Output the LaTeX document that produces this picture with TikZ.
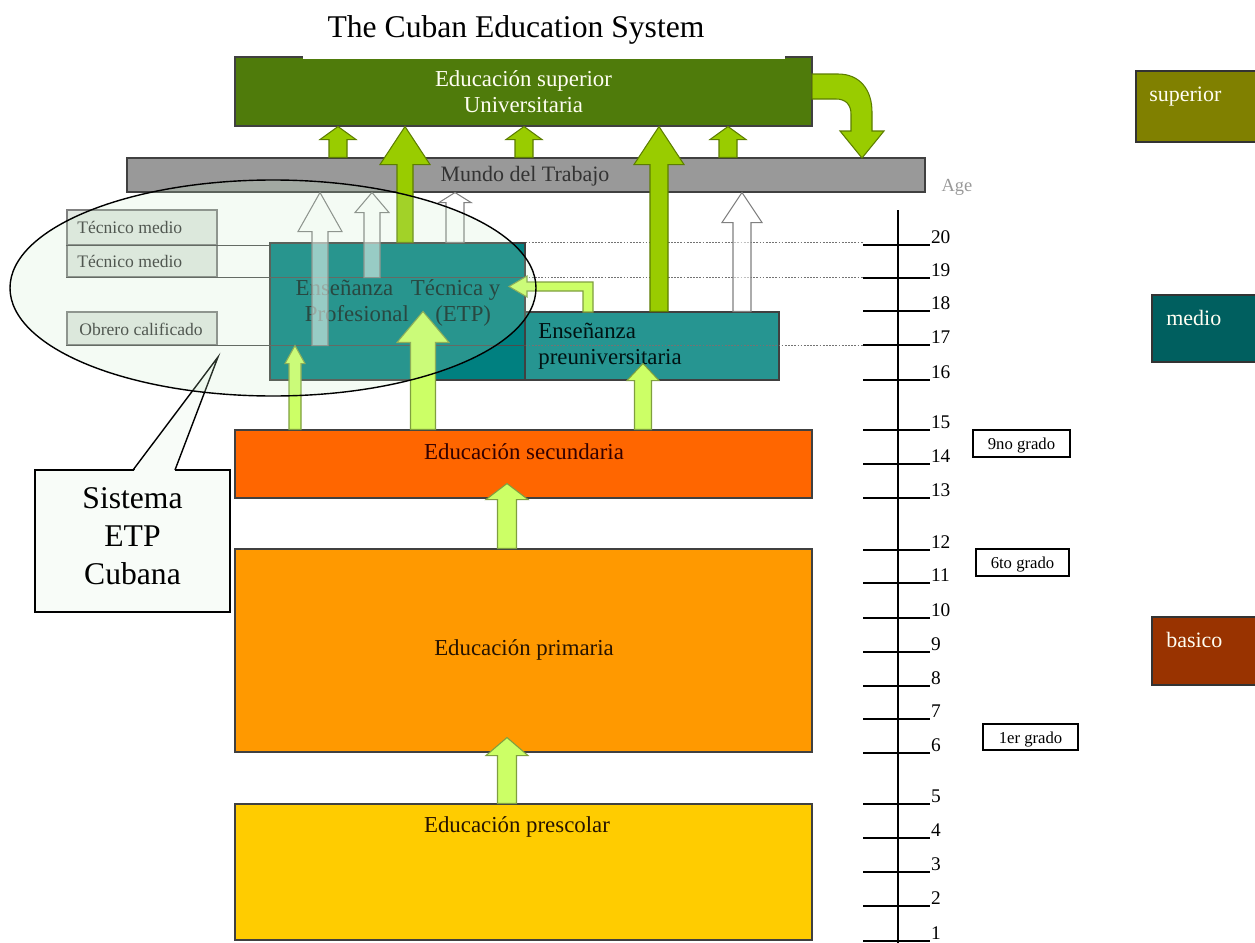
\documentclass[tikz,border=0pt]{standalone}
\usepackage{fontspec}
\setmainfont{Liberation Serif}
\usetikzlibrary{calc,fit}

\definecolor{supgreen}{HTML}{4F7B0B}
\definecolor{worldgray}{HTML}{999999}
\definecolor{etpteal}{HTML}{008080}
\definecolor{preuteal}{HTML}{269591}
\definecolor{secorange}{HTML}{FF6600}
\definecolor{primorange}{HTML}{FF9900}
\definecolor{preyellow}{HTML}{FFCC00}
\definecolor{arrowgreen}{HTML}{99CC00}
\definecolor{arrowgreenline}{HTML}{5C7D00}
\definecolor{lightgreen}{HTML}{CCFF66}
\definecolor{lightgreenline}{HTML}{7F9F3F}
\definecolor{legolive}{HTML}{808000}
\definecolor{legteal}{HTML}{005F5F}
\definecolor{legbrown}{HTML}{993300}
\definecolor{tecfill}{HTML}{E2E8E2}
\definecolor{ovalfill}{HTML}{C8EBC8}
\definecolor{notefill}{HTML}{F8FCF8}

% upward block arrow: style, centre x, tail point, tip point, half shaft, half head, head length
\newcommand{\blockup}[7]{%
  \path[#1] let \p1=#3, \p2=#4 in
    ({(#2-#5)*0.02cm},\y1) -- ({(#2-#5)*0.02cm},{\y2-#7*0.02cm})
    -- ({(#2-#6)*0.02cm},{\y2-#7*0.02cm}) -- ({#2*0.02cm},\y2)
    -- ({(#2+#6)*0.02cm},{\y2-#7*0.02cm}) -- ({(#2+#5)*0.02cm},{\y2-#7*0.02cm})
    -- ({(#2+#5)*0.02cm},\y1) -- cycle;}

\begin{document}
\begin{tikzpicture}[x=0.02cm, y=-0.02cm,
  box/.style={rectangle, inner sep=0pt, draw=black!75, line width=0.6pt},
  lbl/.style={font=\fontsize{13}{14.5}\selectfont, inner sep=0pt, align=center},
  teclbl/.style={font=\fontsize{10}{11}\selectfont, inner sep=0pt, anchor=west, text=black!80},
  tecbox/.style={box, draw=black!50, fill=tecfill},
  gradebox/.style={box, draw=black, fill=white},
  gradefont/.style={font=\fontsize{9.5}{11}\selectfont, inner sep=0pt, yshift=-1.3pt},
  legbox/.style={box, draw=black!80},
  leglbl/.style={font=\fontsize{12.5}{14}\selectfont, inner sep=0pt, anchor=west, text=white!95!yellow},
  greenarrow/.style={fill=arrowgreen, draw=arrowgreenline, line width=0.6pt},
  lightarrow/.style={fill=lightgreen, draw=lightgreenline, line width=0.6pt},
  whitearrow/.style={fill=white, fill opacity=0.55, draw=black!50, line width=0.6pt},
  levelline/.style={draw=black!70, line width=0.5pt},
  dotline/.style={draw=black!55, line width=0.5pt, dash pattern=on 1pt off 0.8pt},
  agelbl/.style={font=\fontsize{11}{12}\selectfont, inner sep=0.3pt, anchor=south west}
]
\useasboundingbox (0,0) rectangle (1255,943);

% ---------- higher education and title ----------
\node[box, fill=supgreen, fit={(235,57)(812,126)}] (sup) {};
\node[lbl, text=white!95!yellow] (suptext) at (sup.center) {Educación superior\\Universitaria};
\node[fill=white, inner sep=0pt, fit={(303,0)(785,59)}] (titlebg) {};
\node[font=\fontsize{18}{20}\selectfont, inner sep=0pt] (title) at (516,30) {The Cuban Education System};

% ---------- world of work ----------
\node[box, fill=worldgray, fit={(127,158)(925,192)}] (mundo) {};
\node[lbl, font=\fontsize{12.5}{14}\selectfont, text=black!80] (mundotext) at (525,176) {Mundo del Trabajo};
\node[font=\fontsize{10.5}{12}\selectfont, text=black!40, inner sep=0pt] (agehead) at (957,187) {Age};

% curved return arrow from higher education into the world of work
\path[greenarrow] (812,74) -- (838,74) .. controls (860,74) and (872,90) .. (872,112)
  -- (872,131) -- (884,131) -- (862,158) -- (840,131) -- (851,131) -- (851,114)
  .. controls (851,104) and (845,99) .. (836,99) -- (812,99) -- cycle;

% work -> higher education
\blockup{greenarrow}{338}{(mundo.north)}{(sup.south)}{9}{18}{13}
\blockup{greenarrow}{524}{(mundo.north)}{(sup.south)}{9}{18}{13}
\blockup{greenarrow}{728}{(mundo.north)}{(sup.south)}{9}{18}{13}

% ---------- qualification boxes ----------
\node[tecbox, fit={(67,210)(217,245)}] (tec1) {};
\node[tecbox, fit={(67,245)(217,277)}] (tec2) {};
\node[tecbox, fit={(67,312)(217,345)}] (obr) {};
\node[teclbl] (tec1text) at (77,227) {Técnico medio};
\node[teclbl] (tec2text) at (77,261) {Técnico medio};
\node[teclbl] (obrtext) at (79,329) {Obrero calificado};

% ---------- middle level ----------
\node[box, fill=etpteal, fit={(270,243)(525,380)}] (etp) {};
\node[box, fill=preuteal, fit={(525,312)(779,380)}] (preu) {};
\node[lbl, text=black!75!teal] (etptext) at (398,303)
  {Enseñanza\hspace{10pt}Técnica y\\Profesional\hspace{15pt}(ETP)};
\node[lbl, align=left, anchor=west, text=black!85!teal] (preutext) at (538,346)
  {Enseñanza\\preuniversitaria};

% age level lines
\coordinate (tickl) at (863,0);
\draw[levelline] (tec1.south west) -- (tec1.south west -| etp.west);
\draw[dotline] (etp.north east) -- (etp.north east -| tickl);
\draw[levelline] (tec2.south west) -- (tec2.south west -| etp.east);
\draw[dotline] (tec2.south west -| etp.east) -- (tec2.south west -| tickl);
\draw[levelline] (obr.south west) -- (obr.south west -| etp.east);
\draw[dotline] (obr.south west -| etp.east) -- (obr.south west -| tickl);

% middle level -> higher education
\blockup{greenarrow}{405}{(etp.north)}{(sup.south)}{8}{25}{38}
\blockup{greenarrow}{659}{(preu.north)}{(sup.south)}{9}{25}{38}

% middle level -> world of work
\blockup{whitearrow}{320}{(obr.south)}{(mundo.south)}{8}{22}{39}
\blockup{whitearrow}{372}{(tec2.south)}{(mundo.south)}{8}{17}{20}
\blockup{whitearrow}{455}{(etp.north)}{(mundo.south)}{9}{16}{10}
\blockup{whitearrow}{742}{(preu.north)}{(mundo.south)}{9}{20}{30}

% preuniversity -> ETP
\path[lightarrow] (583,312) -- (583,291) -- (527,291) -- (527,297) -- (509,286.5)
  -- (527,276) -- (527,282) -- (593,282) -- (593,312) -- cycle;

% ---------- basic levels ----------
\node[box, fill=secorange, fit={(235,430)(812,498)}] (sec) {};
\node[lbl, text=black!80!red] (sectext) at (524,452) {Educación secundaria};
\node[box, fill=primorange, fit={(235,549)(812,752)}] (prim) {};
\node[lbl, text=black!85!orange] (primtext) at (524,650) {Educación primaria};
\node[box, fill=preyellow, fit={(235,804)(812,940)}] (pre) {};
\node[lbl, text=black!85!orange] (pretext) at (517,827) {Educación prescolar};

\blockup{lightarrow}{295}{(sec.north)}{(obr.south)}{6}{10}{18}
\blockup{lightarrow}{423}{(sec.north)}{(obr.north)}{12.5}{26}{31}
\blockup{lightarrow}{643}{(sec.north)}{($(preu.south)+(0,-17)$)}{8.5}{16}{17}
\blockup{lightarrow}{507}{(prim.north)}{($(sec.south)+(0,-15)$)}{9.5}{21}{16}
\blockup{lightarrow}{507}{(pre.north)}{($(prim.south)+(0,-15)$)}{9.5}{21}{18}

% ---------- age scale ----------
\draw[line width=0.6pt] (898,210) -- (898,943);
\foreach \a/\yy in {20/245,19/278,18/311,17/345,16/380,15/430,14/464,13/498,12/550,11/583,
                    10/618,9/652,8/686,7/719,6/753,5/804,4/838,3/872,2/906,1/941}
  \draw[line width=0.6pt] (863,\yy) -- (930,\yy) node[agelbl] (age\a) {\a};

\node[gradebox, fit={(973,430)(1070,457)}, label={[gradefont]center:9no grado}] (g9) {};
\node[gradebox, fit={(976,549)(1069,576)}, label={[gradefont]center:6to grado}] (g6) {};
\node[gradebox, fit={(983,724)(1078,750)}, label={[gradefont]center:1er grado}] (g1) {};

% ---------- level legend ----------
\node[legbox, fill=legolive, fit={(1136,71)(1256,142)}] (lsup) {};
\node[leglbl] (lsuptext) at (1149,97) {superior};
\node[legbox, fill=legteal, fit={(1152,295)(1256,362)}] (lmed) {};
\node[leglbl] (lmedtext) at (1166,318) {medio};
\node[legbox, fill=legbrown, fit={(1152,617)(1256,685)}] (lbas) {};
\node[leglbl] (lbastext) at (1166,640) {basico};

% ---------- ETP system callout ----------
\node[draw=black, line width=0.8pt, fill=notefill, inner sep=0pt,
      fit={(35,470)(230,612)}] (note) {};
\coordinate (notetip) at (218,357);
\path[fill=notefill] (133.5,471.5) -- (notetip) -- (174.5,471.5) -- cycle;
\draw[line width=0.8pt, line join=miter] (133,470) -- (notetip) -- (175,470);
\node[font=\fontsize{18}{21.5}\selectfont, align=center, inner sep=0pt] (notetext)
  at (132.5,536) {Sistema\\ETP\\Cubana};

\path[fill=ovalfill, fill opacity=0.2, draw=black, line width=0.8pt]
  (273,288) ellipse [x radius=263, y radius=108];
\end{tikzpicture}
\end{document}
